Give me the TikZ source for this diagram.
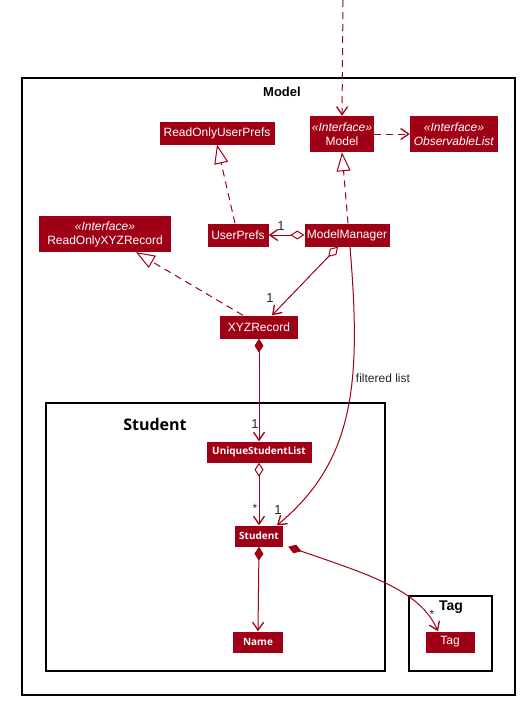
\documentclass[tikz,border=0pt]{standalone}
\usepackage{fontspec}
\setmainfont{Liberation Sans}
\newfontfamily\uifont{Open Sans}
\usetikzlibrary{arrows.meta,positioning}
\definecolor{umlred}{RGB}{160,0,22}

\begin{document}
\begin{tikzpicture}[x=1pt,y=-1pt]
\tikzset{barb/.tip={Straight Barb[length=8pt,width=11pt,line width=1.3pt]},
hollowdia/.tip={Diamond[open,length=14pt,width=9pt,fill=white,line width=1pt]},
soliddia/.tip={Diamond[length=14pt,width=9pt]},
cls/.style={fill=umlred,text=white,font=\fontsize{12}{14}\selectfont,inner sep=2pt,minimum height=23pt,align=center},
ucls/.style={cls,font=\uifont\bfseries\fontsize{10}{12}\selectfont,minimum height=21pt},
frame/.style={draw=black,line width=1.2pt},
link/.style={umlred,line width=1pt},
dep/.style={link,-barb,dash pattern=on 7pt off 5pt},
real/.style={link,dash pattern=on 7pt off 5pt,-{Triangle[open,length=19pt,width=14pt,fill=white,line width=1pt]}},
aggr/.style={link,hollowdia-barb},
comp/.style={link,soliddia-barb},
mult/.style={font=\fontsize{13}{15}\selectfont,text=black!85,inner sep=0pt}}
\useasboundingbox (0,0) rectangle (525,705);

% package frames
\draw[frame] (22,78) rectangle (515,695);
\node[font=\bfseries\fontsize{13}{15}\selectfont] (tModel) at (282,92) {Model};
\draw[frame] (46,403) rectangle (385,671);
\node[font=\uifont\bfseries\fontsize{16}{18}\selectfont] (tStudent) at (155,424) {Student};
\draw[frame] (409,596) rectangle (492,671);
\node[font=\bfseries\fontsize{14}{16}\selectfont] (tTag) at (451,607) {Tag};

% classes
\node[cls,minimum width=115pt] (roprefs) at (217,133) {ReadOnlyUserPrefs};
\node[cls,minimum width=64pt,minimum height=36pt,inner sep=1pt] (model) at (342,134) {\textit{«Interface»}\\Model};
\node[cls,minimum width=88pt,minimum height=36pt,inner sep=1pt] (oblist) at (454,134) {\textit{«Interface»}\\\textit{ObservableList}};
\node[cls,minimum width=61pt] (prefs) at (238,235) {UserPrefs};
\node[cls,minimum width=85pt] (manager) at (347,235) {ModelManager};
\node[cls,minimum width=132pt,minimum height=36pt,inner sep=1pt] (rorecord) at (105,234) {\textit{«Interface»}\\ReadOnlyXYZRecord};
\node[cls,minimum width=78pt] (record) at (259,327) {XYZRecord};
\node[ucls,minimum width=105pt] (uslist) at (259,452) {UniqueStudentList};
\node[ucls,minimum width=48pt] (student) at (259,536) {Student};
\node[ucls,minimum width=50pt] (name) at (258,642) {Name};
\node[cls,minimum width=49pt,minimum height=21pt] (tag) at (450,642) {Tag};

% connectors
\coordinate (entry) at (343,0);
\draw[dep] (entry) -- (model.north);
\draw[dep] (model.east) -- (oblist.west);
\draw[real] (prefs.north) ++(-3,0) -- (roprefs.south);
\draw[real] (manager.north) ++(1,0) -- (model.south);
\draw[real] (record.north) ++(-16,0) -- ([xshift=31pt]rorecord.south);
\draw[aggr] (manager.west) -- (prefs.east);
\draw[aggr] ([xshift=-9pt]manager.south) -- ([xshift=13pt]record.north);
\draw[comp] (record.south) -- (uslist.north);
\draw[aggr] (uslist.south) -- (student.north);
\draw[link,-barb] ([xshift=3pt]manager.south) .. controls (361,380) and (356,460) .. ([xshift=18pt]student.north);
\draw[comp] (student.south) -- (name.north);
\draw[comp] ([xshift=5pt]student.south east) .. controls (370,575) and (420,590) .. ([xshift=-12pt]tag.north);

% labels
\node[mult] (mPrefs) at (281,226) {1};
\node[mult] (mRecord) at (270,298) {1};
\node[mult] (mList) at (255,424) {1};
\node[mult,font=\fontsize{12}{14}\selectfont] (mStudent) at (255,508) {*};
\node[mult] (mFiltered) at (278,510) {1};
\node[mult,font=\fontsize{12}{14}\selectfont] (mTag) at (432,614) {*};
\node[mult,font=\fontsize{12}{14}\selectfont] (flabel) at (383,378) {filtered list};
\end{tikzpicture}
\end{document}
